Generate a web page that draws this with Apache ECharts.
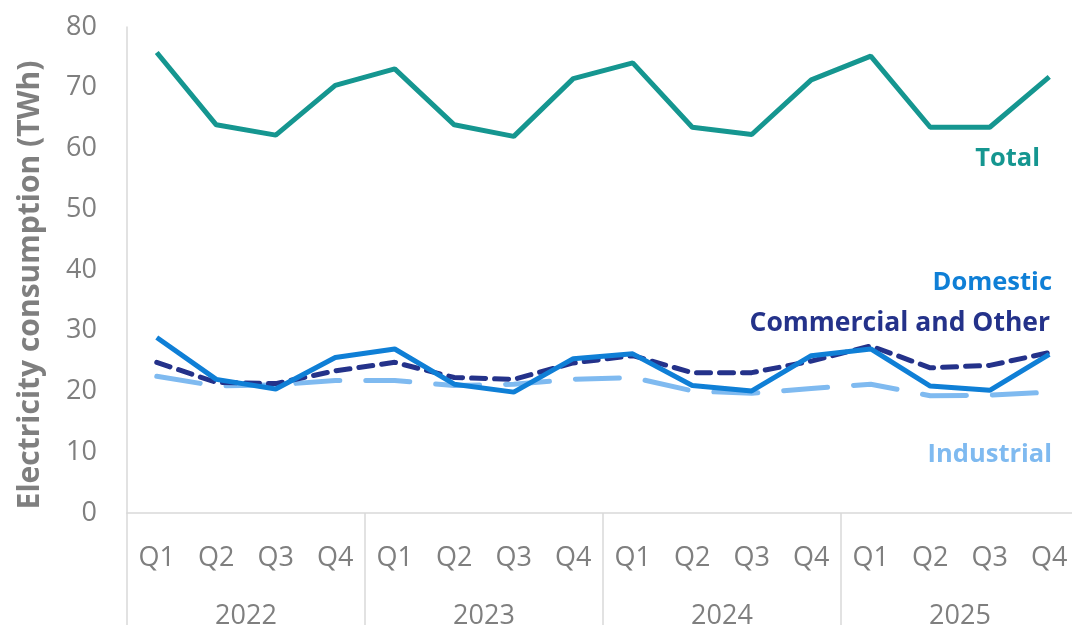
<!DOCTYPE html>
<html>
<head>
<meta charset="utf-8">
<script src="https://cdn.jsdelivr.net/npm/echarts@6/dist/echarts.min.js"></script>
<style>
html,body{margin:0;padding:0;background:#fff;}
#chart{width:1072px;height:625px;}
</style>
</head>
<body>
<div id="chart"></div>
<script>
var quarters = ['Q1','Q2','Q3','Q4','Q1','Q2','Q3','Q4','Q1','Q2','Q3','Q4','Q1','Q2','Q3','Q4'];
var years = ['2022','2023','2024','2025'];
var total = [75.8, 63.9, 62.2, 70.4, 73.1, 63.9, 62.0, 71.5, 74.1, 63.5, 62.3, 71.3, 75.2, 63.5, 63.5, 71.8];
var domestic = [28.9, 22.0, 20.4, 25.6, 27.0, 21.2, 19.9, 25.4, 26.2, 21.0, 20.1, 25.9, 27.0, 20.9, 20.2, 26.1];
var commercial = [24.8, 21.5, 21.3, 23.4, 24.8, 22.3, 22.0, 24.7, 25.9, 23.1, 23.1, 25.0, 27.5, 23.9, 24.3, 26.4];
var industrial = [22.5, 20.9, 21.1, 21.8, 21.8, 21.0, 21.2, 22.0, 22.3, 20.1, 19.7, 20.5, 21.2, 19.3, 19.4, 19.9];
var seriesNames = ['Total', 'Domestic', 'Commercial and Other', 'Industrial'];
var yTitle = 'Electricity consumption (TWh)';

var C_TOTAL = '#159690', C_DOM = '#0f7fd6', C_COM = '#24328a', C_IND = '#7fbaf0';
var GRAY = '#7f7f7f', LINE = '#d9d9d9';
var FONT = "'Open Sans', sans-serif";

var chart = echarts.init(document.getElementById('chart'));
chart.setOption({
  animation: false,
  backgroundColor: '#fff',
  grid: { left: 127, top: 27, width: 952, height: 486, containLabel: false, outerBoundsMode: 'none' },
  xAxis: [{
    type: 'category', data: quarters, position: 'bottom', boundaryGap: true,
    axisLine: { show: true, lineStyle: { color: LINE, width: 1.5 } },
    axisTick: { show: true, length: 112, interval: function (i) { return i % 4 === 0; }, lineStyle: { color: LINE, width: 1.5 } },
    axisLabel: { interval: 0, margin: 32, color: GRAY, fontSize: 27, fontFamily: FONT }
  }, {
    type: 'category', data: years, position: 'bottom', boundaryGap: true,
    axisLine: { show: false }, axisTick: { show: false },
    axisLabel: { interval: 0, margin: 90, color: GRAY, fontSize: 27, fontFamily: FONT }
  }],
  yAxis: {
    type: 'value', min: 0, max: 80, interval: 10,
    axisLine: { show: true, lineStyle: { color: LINE, width: 1.5 } },
    axisTick: { show: false },
    splitLine: { show: false },
    axisLabel: { margin: 30, color: GRAY, fontSize: 27, fontFamily: FONT }
  },
  series: [{
    name: seriesNames[3], type: 'line', data: industrial, symbol: 'none',
    lineStyle: { color: C_IND, width: 5, type: [44, 26], cap: 'round' }
  }, {
    name: seriesNames[2], type: 'line', data: commercial, symbol: 'none',
    lineStyle: { color: C_COM, width: 5, type: [14, 9], cap: 'round' }
  }, {
    name: seriesNames[1], type: 'line', data: domestic, symbol: 'none',
    lineStyle: { color: C_DOM, width: 5 }
  }, {
    name: seriesNames[0], type: 'line', data: total, symbol: 'none',
    lineStyle: { color: C_TOTAL, width: 5 }
  }],
  graphic: [
    { type: 'text', x: 30, y: 285, rotation: Math.PI / 2,
      style: { text: yTitle, fill: GRAY, font: "bold 30px " + FONT, textAlign: 'center', textVerticalAlign: 'middle' } },
    { type: 'text', right: 32, top: 146, style: { text: seriesNames[0], fill: C_TOTAL, font: "bold 25.5px " + FONT } },
    { type: 'text', right: 20, top: 270, style: { text: seriesNames[1], fill: C_DOM, font: "bold 25.5px " + FONT } },
    { type: 'text', right: 22, top: 310, style: { text: seriesNames[2], fill: C_COM, font: "bold 26.5px " + FONT } },
    { type: 'text', right: 20, top: 442, style: { text: seriesNames[3], fill: C_IND, font: "bold 25.5px " + FONT } }
  ]
});
</script>
</body>
</html>
